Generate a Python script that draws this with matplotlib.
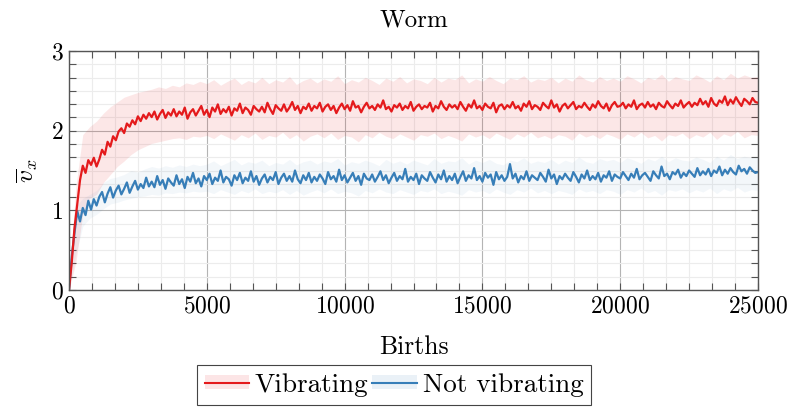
import numpy as np
import matplotlib
matplotlib.use('Agg')
import matplotlib.pyplot as plt
from matplotlib.patches import Patch
from matplotlib.lines import Line2D
from matplotlib.ticker import MultipleLocator

plt.rcParams['font.family'] = 'serif'
plt.rcParams['font.serif'] = ['cmr10']
plt.rcParams['mathtext.fontset'] = 'cm'
plt.rcParams['axes.formatter.use_mathtext'] = True
plt.rcParams['font.size'] = 17

# mean curves, one value every 100 births
births_line = np.arange(0, 25001, 100)
vib_mean = [
    0.00, 0.35, 0.78, 1.08, 1.38, 1.56, 1.47, 1.63, 1.57, 1.66,
    1.55, 1.64, 1.76, 1.70, 1.86, 1.80, 1.93, 1.88, 1.99, 2.03,
    1.97, 2.09, 2.05, 2.13, 2.08, 2.18, 2.12, 2.20, 2.15, 2.22,
    2.17, 2.24, 2.14, 2.21, 2.26, 2.16, 2.23, 2.19, 2.27, 2.18,
    2.24, 2.20, 2.29, 2.15, 2.23, 2.27, 2.19, 2.25, 2.31, 2.20,
    2.26, 2.17, 2.29, 2.24, 2.33, 2.21, 2.27, 2.23, 2.30, 2.19,
    2.28, 2.25, 2.34, 2.22, 2.29, 2.26, 2.20, 2.31, 2.27, 2.24,
    2.30, 2.23, 2.35, 2.27, 2.21, 2.32, 2.28, 2.25, 2.33, 2.24,
    2.29, 2.36, 2.26, 2.31, 2.22, 2.30, 2.27, 2.34, 2.25, 2.31,
    2.28, 2.35, 2.24, 2.30, 2.33, 2.26, 2.31, 2.22, 2.29, 2.34,
    2.27, 2.32, 2.25, 2.37, 2.29, 2.31, 2.23, 2.30, 2.35, 2.28,
    2.31, 2.26, 2.33, 2.29, 2.38, 2.27, 2.30, 2.24, 2.32, 2.29,
    2.34, 2.26, 2.31, 2.28, 2.36, 2.25, 2.30, 2.33, 2.27, 2.31,
    2.29, 2.35, 2.24, 2.31, 2.28, 2.37, 2.30, 2.26, 2.33, 2.29,
    2.32, 2.27, 2.36, 2.30, 2.25, 2.33, 2.29, 2.38, 2.28, 2.31,
    2.26, 2.34, 2.30, 2.28, 2.35, 2.23, 2.31, 2.33, 2.27, 2.32,
    2.29, 2.36, 2.28, 2.31, 2.25, 2.34, 2.30, 2.37, 2.27, 2.32,
    2.30, 2.26, 2.35, 2.31, 2.28, 2.38, 2.29, 2.33, 2.24, 2.31,
    2.34, 2.28, 2.32, 2.36, 2.27, 2.31, 2.29, 2.35, 2.30, 2.26,
    2.33, 2.29, 2.37, 2.31, 2.28, 2.34, 2.25, 2.32, 2.36, 2.30,
    2.31, 2.35, 2.28, 2.33, 2.30, 2.38, 2.27, 2.32, 2.34, 2.29,
    2.36, 2.30, 2.33, 2.27, 2.35, 2.31, 2.29, 2.37, 2.32, 2.28,
    2.34, 2.31, 2.38, 2.29, 2.33, 2.36, 2.30, 2.35, 2.32, 2.40,
    2.33, 2.37, 2.30, 2.41, 2.34, 2.31, 2.38, 2.35, 2.43, 2.32,
    2.39, 2.34, 2.42, 2.36, 2.31, 2.40, 2.37, 2.33, 2.41, 2.36,
    2.35,
]
novib_mean = [
    0.00, 0.42, 0.72, 0.99, 0.86, 1.03, 0.94, 1.12, 1.01, 1.14,
    1.06, 1.17, 1.23, 1.10, 1.21, 1.29, 1.16, 1.25, 1.31, 1.20,
    1.27, 1.35, 1.22, 1.30, 1.37, 1.26, 1.33, 1.28, 1.41, 1.30,
    1.36, 1.29, 1.43, 1.32, 1.38, 1.27, 1.40, 1.35, 1.31, 1.44,
    1.33, 1.39, 1.28, 1.42, 1.36, 1.47, 1.34, 1.40, 1.30, 1.43,
    1.38, 1.46, 1.33, 1.41, 1.37, 1.50, 1.35, 1.42, 1.39, 1.31,
    1.44, 1.38, 1.47, 1.34, 1.41, 1.37, 1.49, 1.36, 1.43, 1.32,
    1.40, 1.45, 1.35, 1.42, 1.38, 1.48, 1.33, 1.41, 1.46, 1.37,
    1.43, 1.36, 1.50, 1.39, 1.34, 1.44, 1.38, 1.47, 1.35, 1.42,
    1.37, 1.45, 1.40, 1.33, 1.48, 1.39, 1.43, 1.36, 1.51, 1.38,
    1.44, 1.35, 1.41, 1.47, 1.37, 1.43, 1.32, 1.46, 1.40, 1.38,
    1.45, 1.36, 1.42, 1.49, 1.38, 1.44, 1.34, 1.41, 1.47, 1.37,
    1.43, 1.39, 1.52, 1.36, 1.42, 1.38, 1.46, 1.33, 1.44, 1.40,
    1.37, 1.48, 1.41, 1.35, 1.45, 1.39, 1.50, 1.36, 1.43, 1.38,
    1.46, 1.34, 1.42, 1.49, 1.37, 1.44, 1.40, 1.53, 1.38, 1.43,
    1.36, 1.47, 1.41, 1.45, 1.32, 1.48, 1.39, 1.44, 1.37, 1.42,
    1.58, 1.40, 1.46, 1.35, 1.43, 1.39, 1.49, 1.37, 1.44, 1.41,
    1.38, 1.47, 1.42, 1.36, 1.51, 1.40, 1.45, 1.33, 1.43, 1.39,
    1.46, 1.41, 1.37, 1.48, 1.42, 1.35, 1.45, 1.40, 1.50, 1.38,
    1.43, 1.39, 1.47, 1.36, 1.44, 1.41, 1.49, 1.37, 1.45, 1.42,
    1.40, 1.48, 1.43, 1.38, 1.46, 1.41, 1.52, 1.39, 1.44, 1.47,
    1.42, 1.37, 1.49, 1.44, 1.40, 1.55, 1.43, 1.46, 1.39, 1.48,
    1.45, 1.51, 1.41, 1.47, 1.43, 1.50, 1.46, 1.42, 1.53, 1.44,
    1.49, 1.45, 1.52, 1.43, 1.50, 1.47, 1.55, 1.44, 1.51, 1.46,
    1.53, 1.48, 1.45, 1.56, 1.49, 1.52, 1.46, 1.54, 1.50, 1.47,
    1.48,
]

# shaded spread, one value every 250 births
births_band = np.arange(0, 25001, 250)
vib_upper = [
    0.15, 1.30, 1.95, 2.05, 2.12, 2.22, 2.30, 2.36, 2.42, 2.45,
    2.48, 2.50, 2.52, 2.55, 2.53, 2.57, 2.55, 2.60, 2.58, 2.62,
    2.59, 2.64, 2.57, 2.62, 2.66, 2.58, 2.63, 2.60, 2.67, 2.59,
    2.64, 2.61, 2.68, 2.58, 2.63, 2.66, 2.60, 2.65, 2.62, 2.69,
    2.59, 2.64, 2.61, 2.67, 2.63, 2.58, 2.66, 2.62, 2.68, 2.60,
    2.65, 2.63, 2.59, 2.67, 2.61, 2.66, 2.64, 2.70, 2.60, 2.65,
    2.62, 2.68, 2.63, 2.59, 2.66, 2.64, 2.69, 2.61, 2.65, 2.63,
    2.67, 2.60, 2.66, 2.62, 2.70, 2.64, 2.61, 2.68, 2.63, 2.66,
    2.62, 2.69, 2.65, 2.60, 2.67, 2.64, 2.71, 2.62, 2.68, 2.65,
    2.63, 2.70, 2.66, 2.61, 2.69, 2.64, 2.72, 2.66, 2.70, 2.67,
    2.68,
]
vib_lower = [
    0.00, 0.35, 0.95, 1.15, 1.20, 1.35, 1.45, 1.55, 1.62, 1.70,
    1.76, 1.80, 1.84, 1.86, 1.88, 1.90, 1.91, 1.89, 1.93, 1.92,
    1.94, 1.90, 1.96, 1.92, 1.88, 1.95, 1.91, 1.97, 1.89, 1.94,
    1.92, 1.98, 1.90, 1.95, 1.87, 1.93, 1.96, 1.91, 1.97, 1.89,
    1.94, 1.92, 1.86, 1.95, 1.91, 1.98, 1.93, 1.90, 1.96, 1.92,
    1.88, 1.95, 1.93, 1.97, 1.90, 1.94, 1.91, 1.87, 1.96, 1.92,
    1.95, 1.90, 1.97, 1.93, 1.89, 1.96, 1.92, 1.98, 1.91, 1.94,
    1.90, 1.95, 1.93, 1.88, 1.97, 1.92, 1.95, 1.90, 1.96, 1.93,
    1.89, 1.96, 1.92, 1.98, 1.91, 1.94, 1.87, 1.95, 1.93, 1.97,
    1.90, 1.95, 1.92, 1.98, 1.89, 1.96, 1.93, 1.99, 1.91, 1.95,
    1.94,
]
novib_upper = [
    0.10, 1.05, 1.15, 1.20, 1.25, 1.35, 1.40, 1.42, 1.45, 1.50,
    1.48, 1.52, 1.55, 1.53, 1.56, 1.54, 1.57, 1.55, 1.58, 1.56,
    1.58, 1.62, 1.56, 1.60, 1.64, 1.57, 1.61, 1.59, 1.63, 1.56,
    1.60, 1.58, 1.64, 1.57, 1.61, 1.63, 1.58, 1.62, 1.60, 1.65,
    1.57, 1.61, 1.59, 1.63, 1.60, 1.56, 1.64, 1.59, 1.62, 1.58,
    1.63, 1.60, 1.57, 1.65, 1.59, 1.62, 1.61, 1.66, 1.58, 1.63,
    1.60, 1.64, 1.59, 1.57, 1.63, 1.61, 1.66, 1.59, 1.62, 1.60,
    1.64, 1.58, 1.63, 1.60, 1.67, 1.61, 1.59, 1.65, 1.62, 1.64,
    1.60, 1.66, 1.63, 1.59, 1.65, 1.62, 1.68, 1.61, 1.66, 1.63,
    1.62, 1.67, 1.64, 1.60, 1.68, 1.63, 1.70, 1.65, 1.68, 1.66,
    1.67,
]
novib_lower = [
    0.00, 0.45, 0.80, 0.90, 0.95, 1.02, 1.08, 1.10, 1.13, 1.15,
    1.17, 1.18, 1.20, 1.19, 1.22, 1.21, 1.23, 1.22, 1.24, 1.23,
    1.24, 1.21, 1.26, 1.23, 1.20, 1.25, 1.22, 1.27, 1.21, 1.24,
    1.22, 1.26, 1.20, 1.25, 1.19, 1.23, 1.26, 1.22, 1.27, 1.21,
    1.24, 1.22, 1.18, 1.25, 1.22, 1.27, 1.23, 1.21, 1.26, 1.23,
    1.20, 1.25, 1.23, 1.27, 1.21, 1.24, 1.22, 1.19, 1.26, 1.23,
    1.25, 1.21, 1.27, 1.23, 1.20, 1.26, 1.23, 1.28, 1.22, 1.25,
    1.21, 1.25, 1.23, 1.20, 1.27, 1.23, 1.25, 1.21, 1.26, 1.24,
    1.20, 1.26, 1.23, 1.28, 1.22, 1.25, 1.19, 1.26, 1.24, 1.27,
    1.22, 1.26, 1.23, 1.28, 1.21, 1.27, 1.24, 1.29, 1.23, 1.26,
    1.25,
]

labels = ['Vibrating', 'Not vibrating']
red = '#e41a1c'
blue = '#377eb8'

fig = plt.figure(figsize=(7.91, 4.09), dpi=100)
ax = fig.add_axes([69/791, 1 - 290/409, (758-69)/791, (290-51)/409])

ax.fill_between(births_band, vib_lower, vib_upper, color=red, alpha=0.1, lw=0)
ax.fill_between(births_band, novib_lower, novib_upper, color=blue, alpha=0.06, lw=0)
ax.plot(births_line, novib_mean, color=blue, lw=1.6)
ax.plot(births_line, vib_mean, color=red, lw=1.6)

ax.set_xlim(0, 25000)
ax.set_ylim(0, 3)
ax.xaxis.set_major_locator(MultipleLocator(5000))
ax.xaxis.set_minor_locator(MultipleLocator(5000/6))
ax.yaxis.set_major_locator(MultipleLocator(1))
ax.yaxis.set_minor_locator(MultipleLocator(1/6))
ax.grid(which='major', color='#b4b4b4', lw=0.8)
ax.grid(which='minor', color='#ececec', lw=0.8)
ax.set_axisbelow(True)
ax.tick_params(which='both', direction='in', top=True, right=True,
               color='#555555', width=0.8)
ax.tick_params(which='major', length=5, pad=4)
ax.tick_params(which='minor', length=5)
for s in ax.spines.values():
    s.set_color('#555555')
    s.set_linewidth(1.0)

ax.set_title('Worm', fontsize=18, pad=18)
ax.set_xlabel('Births', fontsize=18.5, labelpad=13)
ax.set_ylabel(r'$\overline{v}_x$', fontsize=18.5, labelpad=8)

handles = [
    (Patch(facecolor=red, alpha=0.11, lw=0), Line2D([], [], color=red, lw=1.5)),
    (Patch(facecolor=blue, alpha=0.1, lw=0), Line2D([], [], color=blue, lw=1.5)),
]
leg = fig.legend(handles, labels, loc='upper center', bbox_to_anchor=(394/791, 1 - 365/409),
                 ncol=2, fancybox=False, framealpha=1, edgecolor='#444444', fontsize=19.5,
                 handlelength=1.65, handleheight=0.45, handletextpad=0.2,
                 columnspacing=0.15, borderpad=0.3, borderaxespad=0)
leg.get_frame().set_linewidth(0.8)

fig.savefig('out.png', dpi=100)
